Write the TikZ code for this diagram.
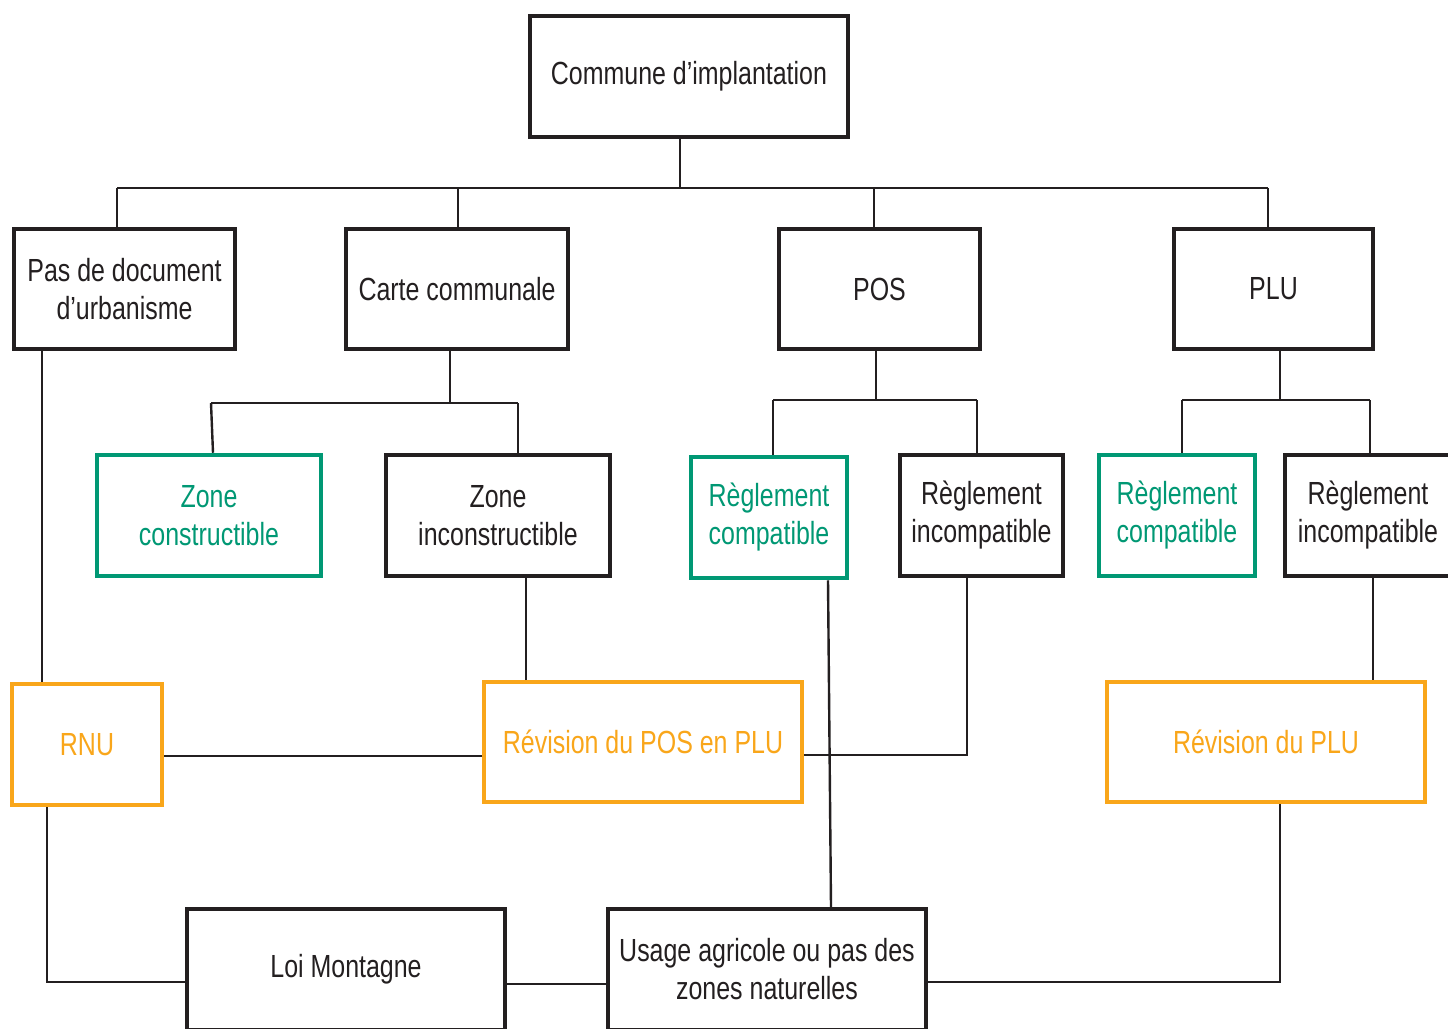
\documentclass[tikz,border=0pt]{standalone}
\usepackage{fontspec}
\setmainfont[FakeStretch=0.78]{Liberation Sans}
\definecolor{ink}{HTML}{231F20}
\definecolor{vert}{HTML}{009874}
\definecolor{orange}{HTML}{F9A61A}
\begin{document}
\begin{tikzpicture}[x=1pt,y=-1pt,
  box/.style={draw=ink,text=ink,line width=4.5pt,inner sep=0pt,align=center,
    font=\fontsize{32}{38}\selectfont,minimum height=121pt},
  gbox/.style={box,draw=vert,text=vert},
  obox/.style={box,draw=orange,text=orange},
  lnk/.style={draw=ink,line width=2.4pt}]
\useasboundingbox (0,0) rectangle (1448,1028);
\fill[white] (0,0) rectangle (1448,1028);
% nodes
\node[box,minimum width=318pt] (commune) at (689,76.5) {Commune d’implantation};
\node[box,minimum width=221pt,minimum height=120pt] (pas) at (124.5,289) {Pas de document\\d’urbanisme};
\node[box,minimum width=222pt,minimum height=120pt] (carte) at (457,289) {Carte communale};
\node[box,minimum width=201pt,minimum height=120pt] (pos) at (879.5,289) {POS};
\node[box,minimum width=199pt,minimum height=120pt] (plu) at (1273.5,289) {PLU};
\node[gbox,minimum width=224pt] (zc) at (209,515.5) {Zone\\constructible};
\node[box,minimum width=224pt] (zi) at (498,515.5) {Zone\\inconstructible};
\node[gbox,minimum width=156pt] (rc1) at (769,517.5) {Règlement\\compatible};
\node[box,minimum width=163pt] (ri1) at (981.5,515.5) {Règlement\\incompatible};
\node[gbox,minimum width=156pt] (rc2) at (1177,515.5) {Règlement\\compatible};
\node[box,minimum width=166pt] (ri2) at (1368,515.5) {Règlement\\incompatible};
\node[obox,minimum width=150pt] (rnu) at (87,744.5) {RNU};
\node[obox,minimum width=318pt,minimum height=120pt] (rpos) at (643,742) {Révision du POS en PLU};
\node[obox,minimum width=318pt,minimum height=120pt] (rplu) at (1266,742) {Révision du PLU};
\node[box,minimum width=318pt] (loi) at (346,969.5) {Loi Montagne};
\node[box,minimum width=318pt] (usage) at (767,969.5) {Usage agricole ou pas des\\zones naturelles};
% junction coordinates
\coordinate (j0) at (680,188);
\coordinate (b1) at (117,188);
\coordinate (b2) at (458,188);
\coordinate (b3) at (874,188);
\coordinate (b4) at (1268,188);
\coordinate (jc) at (450,403);
\coordinate (c1) at (211,403);
\coordinate (c2) at (518,403);
\coordinate (jp) at (876,400);
\coordinate (p1) at (773,400);
\coordinate (p2) at (977,400);
\coordinate (jl) at (1280,400);
\coordinate (l1) at (1182,400);
\coordinate (l2) at (1370,400);
\coordinate (k1) at (967,755);
\coordinate (k2) at (47,982);
\coordinate (k3) at (1280,982);
% connectors
\draw[lnk] (commune.south -| j0) -- (j0);
\draw[lnk] (b1) -- (b4);
\draw[lnk] (b1) -- (b1 |- pas.north);
\draw[lnk] (b2) -- (b2 |- carte.north);
\draw[lnk] (b3) -- (b3 |- pos.north);
\draw[lnk] (b4) -- (b4 |- plu.north);
\draw[lnk] (carte.south -| jc) -- (jc);
\draw[lnk] (c1) -- (c2);
\draw[lnk] (c1) -- ([xshift=2pt]c1 |- zc.north);
\draw[lnk] (c2) -- (c2 |- zi.north);
\draw[lnk] (pos.south -| jp) -- (jp);
\draw[lnk] (p1) -- (p2);
\draw[lnk] (p1) -- (p1 |- rc1.north);
\draw[lnk] (p2) -- (p2 |- ri1.north);
\draw[lnk] (plu.south -| jl) -- (jl);
\draw[lnk] (l1) -- (l2);
\draw[lnk] (l1) -- (l1 |- rc2.north);
\draw[lnk] (l2) -- (l2 |- ri2.north);
\draw[lnk] (pas.south -| 42,0) -- (rnu.north -| 42,0);
\draw[lnk] (zi.south -| 526,0) -- (rpos.north -| 526,0);
\draw[lnk] (rnu.east |- 0,756) -- (rpos.west |- 0,756);
\draw[lnk] (ri1.south -| k1) -- (k1) -- (rpos.east |- k1);
\draw[lnk] (rc1.south -| 828,0) -- (usage.north -| 831,0);
\draw[lnk] (ri2.south -| 1373,0) -- (rplu.north -| 1373,0);
\draw[lnk] (rnu.south -| k2) -- (k2) -- (loi.west |- k2);
\draw[lnk] (loi.east |- 0,984) -- (usage.west |- 0,984);
\draw[lnk] (rplu.south -| k3) -- (k3) -- (usage.east |- k3);
\end{tikzpicture}
\end{document}
